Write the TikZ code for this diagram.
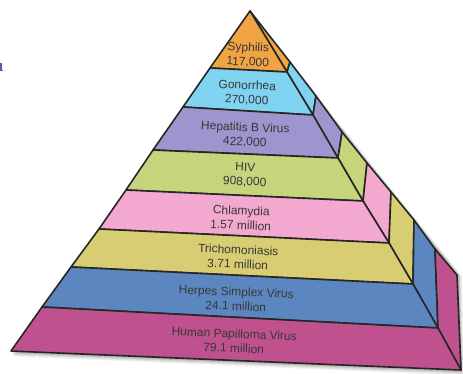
\documentclass[tikz,border=0pt]{standalone}
\usepackage{fontspec}
\setmainfont{Liberation Sans}
\begin{document}
\begin{tikzpicture}[x=1pt,y=-1pt,
  face/.style={draw=black!85, line width=1.6pt, line join=round},
  lbl/.style={align=center, text=black!78, font=\fontsize{12}{14.5}\selectfont, rotate=-2.3, inner sep=0pt}]
\definecolor{cSyp}{HTML}{F0A444}
\definecolor{cGon}{HTML}{80D4F1}
\definecolor{cHep}{HTML}{9D95CD}
\definecolor{cHIV}{HTML}{C6D47C}
\definecolor{cChl}{HTML}{F3A8D0}
\definecolor{cTri}{HTML}{D9CD73}
\definecolor{cHer}{HTML}{5C86C0}
\definecolor{cHPV}{HTML}{C0518F}
\definecolor{cMark}{HTML}{7A4FA0}
\useasboundingbox (0,0) rectangle (463,374);
% points
\coordinate (A) at (250,11);
\coordinate (L1) at (210,68);  \coordinate (C1) at (287,72);  \coordinate (S1) at (290,62);
\coordinate (L2) at (183,107); \coordinate (C2) at (313,115); \coordinate (S2) at (316,96);
\coordinate (L3) at (153,150); \coordinate (C3) at (338,158); \coordinate (S3) at (342,132);
\coordinate (L4) at (126,190); \coordinate (C4) at (363,201); \coordinate (S4) at (367,163);
\coordinate (L5) at (99,229);  \coordinate (C5) at (389,243); \coordinate (S5) at (391,192);
\coordinate (L6) at (71,267);  \coordinate (C6) at (413,284); \coordinate (S6) at (414,220);
\coordinate (L7) at (42,307);  \coordinate (C7) at (438,328); \coordinate (S7) at (435,249);
\coordinate (L8) at (11,351);  \coordinate (C8) at (461,370); \coordinate (S8) at (457,275);
% shadow
\foreach \d/\o in {5/0.05,4/0.06,3/0.08,2/0.10,1/0.12}{
  \fill[black, opacity=\o] ([shift={(\d*0.6,\d*1.1)}]L8) -- ([shift={(\d*0.3,\d*0.6)}]A) -- ([shift={(\d*0.9,\d*0.2)}]S4) -- ([shift={(\d*1.0,\d*0.2)}]S8) -- ([shift={(\d*0.6,\d*1.1)}]C8) -- cycle;
}
% side faces
\path[face, fill=cSyp] (A) -- (S1) -- (C1) -- cycle;
\path[face, fill=cGon] (C1) -- (S1) -- (S2) -- (C2) -- cycle;
\path[face, fill=cHep] (C2) -- (S2) -- (S3) -- (C3) -- cycle;
\path[face, fill=cHIV] (C3) -- (S3) -- (S4) -- (C4) -- cycle;
\path[face, fill=cChl] (C4) -- (S4) -- (S5) -- (C5) -- cycle;
\path[face, fill=cTri] (C5) -- (S5) -- (S6) -- (C6) -- cycle;
\path[face, fill=cHer] (C6) -- (S6) -- (S7) -- (C7) -- cycle;
\path[face, fill=cHPV] (C7) -- (S7) -- (S8) -- (C8) -- cycle;
% front faces
\path[face, fill=cSyp] (A) -- (C1) -- (L1) -- cycle;
\path[face, fill=cGon] (L1) -- (C1) -- (C2) -- (L2) -- cycle;
\path[face, fill=cHep] (L2) -- (C2) -- (C3) -- (L3) -- cycle;
\path[face, fill=cHIV] (L3) -- (C3) -- (C4) -- (L4) -- cycle;
\path[face, fill=cChl] (L4) -- (C4) -- (C5) -- (L5) -- cycle;
\path[face, fill=cTri] (L5) -- (C5) -- (C6) -- (L6) -- cycle;
\path[face, fill=cHer] (L6) -- (C6) -- (C7) -- (L7) -- cycle;
\path[face, fill=cHPV] (L7) -- (C7) -- (C8) -- (L8) -- cycle;
% labels
\node[lbl] (t1) at (248,55) {Syphilis\\117,000};
\node[lbl] (t2) at (247,93) {Gonorrhea\\270,000};
\node[lbl] (t3) at (245,135) {Hepatitis B Virus\\422,000};
\node[lbl] (t4) at (245,175) {HIV\\908,000};
\node[lbl] (t5) at (241,218) {Chlamydia\\1.57 million};
\node[lbl] (t6) at (238,257) {Trichomoniasis\\3.71 million};
\node[lbl] (t7) at (236,299) {Herpes Simplex Virus\\24.1 million};
\node[lbl] (t8) at (234,341) {Human Papilloma Virus\\79.1 million};
% cropped mark at left edge
\fill[cMark] (0,63.5) rectangle (1.6,71);
\fill[cMark] (0,69.6) rectangle (3,71);
\end{tikzpicture}
\end{document}
